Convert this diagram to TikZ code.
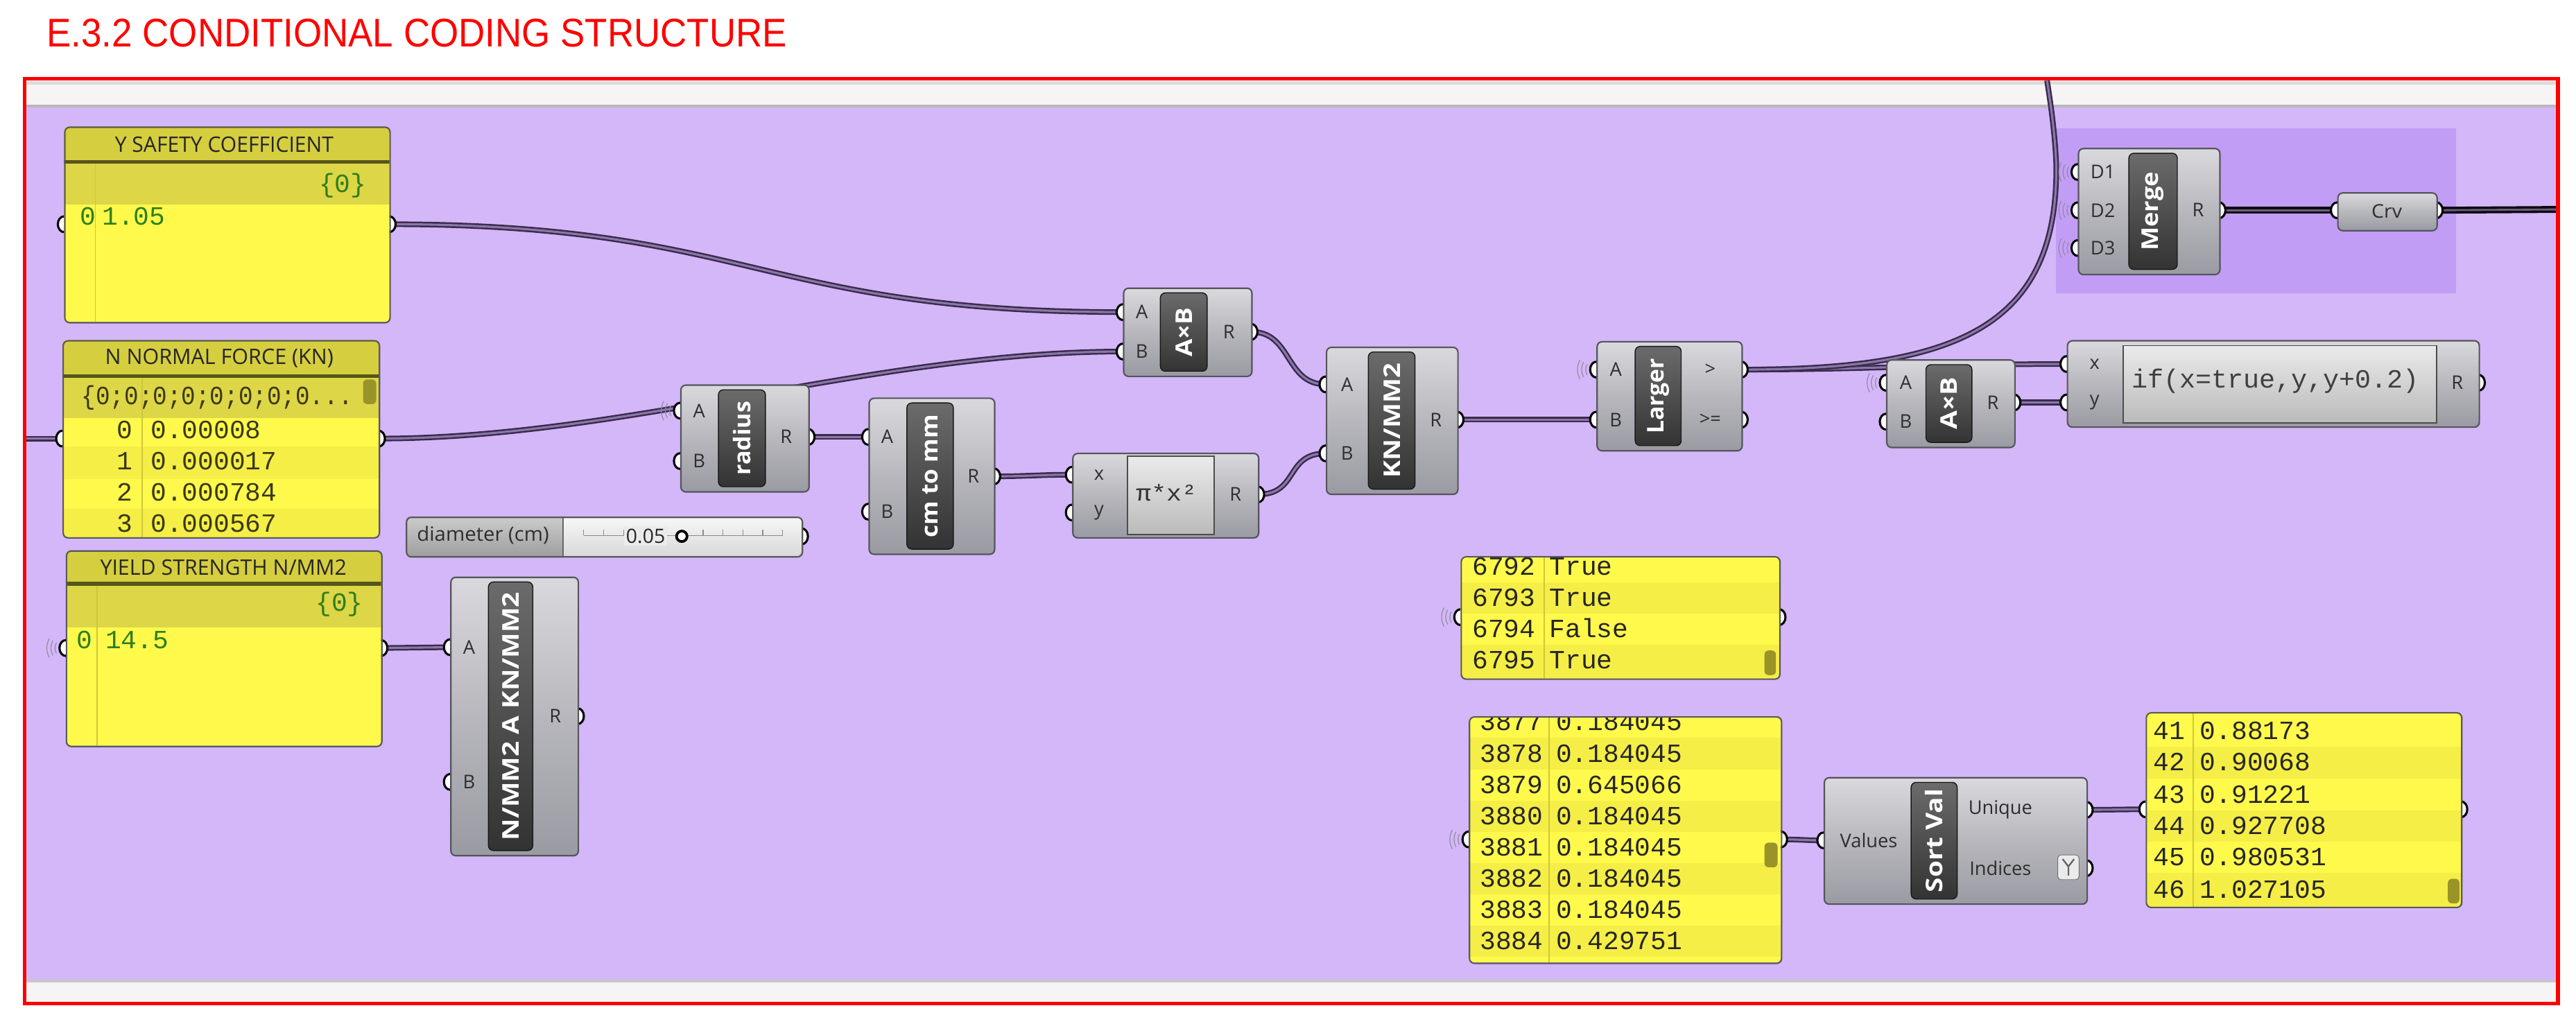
\documentclass[tikz,border=0pt]{standalone}
\usepackage{fontspec}
\usepackage{graphicx}
\usetikzlibrary{calc}
\newfontfamily\ghsans{Open Sans}
\newfontfamily\ghmono{Liberation Mono}
\newfontfamily\ghtitle{Liberation Sans}
\pgfdeclarelayer{bglayer}
\pgfdeclarelayer{wirelayer}
\pgfdeclarelayer{griplayer}
\pgfsetlayers{bglayer,wirelayer,griplayer,main}

\definecolor{ghcanvas}{HTML}{D3B7F9}
\definecolor{groupC}{HTML}{C29DF6}
\definecolor{stripW}{HTML}{F6F4F4}
\definecolor{wireC}{HTML}{3A2B4F}
\definecolor{wireIn}{HTML}{8B78A6}
\definecolor{compTop}{HTML}{D9D9DD}
\definecolor{compMid}{HTML}{B7B7BD}
\definecolor{compBot}{HTML}{9A9AA2}
\definecolor{compEdge}{HTML}{55555C}
\definecolor{panHead}{HTML}{D5CE3F}
\definecolor{panBand}{HTML}{DDD647}
\definecolor{panBody}{HTML}{FFF94C}
\definecolor{panRow}{HTML}{F5EE46}
\definecolor{panLine}{HTML}{57551C}
\definecolor{panSep}{HTML}{CFC73A}
\definecolor{panText}{HTML}{3A3914}
\definecolor{thumbC}{HTML}{9A9428}
\definecolor{greenT}{HTML}{2F7F1C}
\definecolor{redT}{HTML}{FF0000}

\tikzset{
  compbody/.style={draw=compEdge, line width=0.9pt, rounded corners=3pt, top color=compTop, bottom color=compBot, middle color=compMid, inner sep=0pt, shape=rectangle},
  stripbox/.style={draw=black!90, line width=0.6pt, rounded corners=3pt, top color=black!58, bottom color=black!80, inner sep=0pt, shape=rectangle},
  striptext/.style={text=white, font=\ghsans\bfseries\fontsize{14}{14}\selectfont, inner sep=0pt},
  portlab/.style={text=black!82, font=\ghsans\fontsize{11.5}{12}\selectfont, inner sep=0pt},
  headtxt/.style={text=black!85, font=\ghsans\fontsize{13}{13}\selectfont, inner sep=0pt},
  rowtxt/.style={font=\ghmono\fontsize{16}{16}\selectfont, inner sep=0pt},
  exprbox/.style={draw=black!70, line width=0.8pt, top color=black!8, bottom color=black!27, inner sep=0pt, shape=rectangle},
  panframe/.style={draw=black!65, line width=0.9pt, rounded corners=3pt, inner sep=0pt, shape=rectangle},
  wire/.style={draw=wireC, line width=1.05pt, double=wireIn, double distance=1.3pt},
  darkwire/.style={draw=black!80!wireC, line width=1.5pt, double=wireC!75!white, double distance=1.2pt},
  gripst/.style={fill=white, draw=black, line width=1.3pt},
  wless/.style={draw=wireC!55, line width=0.5pt},
}

\newcommand{\ghbody}[5]{\node[compbody, anchor=north west, minimum width={#4pt-#2pt}, minimum height={#5pt-#3pt}] (#1) at (#2,#3) {};}
\newcommand{\ghstrip}[7]{\node[stripbox, anchor=north west, minimum width={#4pt-#2pt}, minimum height={#5pt-#3pt-6pt}] (#1) at (#2,#3+3) {};
  \node[striptext, rotate=90] (#1-t) at (#1.center) {\resizebox{#7pt}{\height}{#6}};}
\newcommand{\ghgrip}[3]{\coordinate (#1) at (#2,#3);
  \begin{pgfonlayer}{griplayer}\draw[gripst] (#2,#3) ellipse [x radius=3.8, y radius=4.8];\end{pgfonlayer}}
\newcommand{\ghport}[5]{\ghgrip{#1}{#2}{#3}\node[portlab] (#1-l) at (#4,#3) {#5};}
\newcommand{\ghwl}[1]{\begin{pgfonlayer}{griplayer}\foreach \rr in {6.5,9,11.5}{\draw[wless] ([shift={(150:\rr)}]#1) arc[start angle=150,end angle=210,radius=\rr];}\end{pgfonlayer}}
\newcommand{\prow}[5]{\node[rowtxt, anchor=base west, text=#5] (#1) at (#2,#3) {#4};}

\begin{document}
\begin{tikzpicture}[x=1pt,y=-1pt]
\useasboundingbox (0,0) rectangle (1568,623.4);

% ---------------- background ----------------
\begin{pgfonlayer}{bglayer}
  \fill[white] (0,0) rectangle (1568,623.4);
  \fill[ghcanvas] (15,48) rectangle (1557,611);
  \fill[stripW] (15,48) rectangle (1557,65);
  \draw[black!14, line width=2pt] (15,50.5) -- (1557,50.5);
  \draw[black!28, line width=1.4pt] (15,64.6) -- (1557,64.6);
  \fill[stripW] (15,597) rectangle (1557,611);
  \draw[black!22, line width=1.4pt] (15,597.2) -- (1557,597.2);
  \fill[groupC] (1251.6,78) rectangle (1495,178.6);
\end{pgfonlayer}

% ---------------- title ----------------
\node[anchor=south west, inner sep=0pt, text=redT] (title) at (28.3,29)
  {\resizebox{450.5pt}{17pt}{\ghtitle E.3.2 CONDITIONAL CODING STRUCTURE}};

% ---------------- Y SAFETY COEFFICIENT panel ----------------
\begin{scope}
  \clip[rounded corners=3pt] (39,77) rectangle (237,196);
  \fill[panBody] (39,77) rectangle (237,196);
  \fill[panHead] (39,77) rectangle (237,98.5);
  \fill[panBand] (39,98.5) rectangle (237,124.5);
  \draw[panLine, line width=2.2pt] (39,98.5) -- (237,98.5);
  \draw[panSep, line width=0.7pt] (58,99.6) -- (58,196);
\end{scope}
\node[panframe, anchor=north west, minimum width=198pt, minimum height=119pt] (ysafe) at (39,77) {};
\node[headtxt] (ysafe-h) at (136.5,88) {\resizebox{133pt}{\height}{Y SAFETY COEFFICIENT}};
\prow{ysafe-br}{194}{117}{\{0\}}{greenT}
\prow{ysafe-i0}{48.6}{137}{0}{greenT}
\prow{ysafe-v0}{62}{137}{1.05}{greenT}
\ghgrip{ysafe-in}{39}{136.5}
\ghgrip{ysafe-out}{237}{136.5}

% ---------------- N NORMAL FORCE panel ----------------
\begin{scope}
  \clip[rounded corners=3pt] (38,207) rectangle (230.5,327);
  \fill[panBody] (38,207) rectangle (230.5,327);
  \fill[panHead] (38,207) rectangle (230.5,229);
  \fill[panBand] (38,229) rectangle (230.5,254.5);
  \fill[panRow] (38,272) rectangle (230.5,291.5);
  \fill[panRow] (38,310) rectangle (230.5,327);
  \draw[panLine, line width=2.2pt] (38,229) -- (230.5,229);
  \draw[panSep, line width=0.7pt] (86.5,230) -- (86.5,327);
  \fill[thumbC, rounded corners=2.5pt] (221,231) rectangle (229,246);
\end{scope}
\node[panframe, anchor=north west, minimum width=192.5pt, minimum height=120pt] (nforce) at (38,207) {};
\node[headtxt] (nforce-h) at (133.5,218) {\resizebox{139pt}{\height}{N NORMAL FORCE (KN)}};
\node[rowtxt, anchor=west, text=panText] (nforce-br) at (49.5,242) {\resizebox{165pt}{\height}{\{0;0;0;0;0;0;0;0...}};
\node[rowtxt, anchor=base east, text=panText] (nforce-i0) at (81,267) {0};
\node[rowtxt, anchor=base east, text=panText] (nforce-i1) at (81,286) {1};
\node[rowtxt, anchor=base east, text=panText] (nforce-i2) at (81,305) {2};
\node[rowtxt, anchor=base east, text=panText] (nforce-i3) at (81,324) {3};
\prow{nforce-v0}{91.6}{267}{0.00008}{panText}
\prow{nforce-v1}{91.6}{286}{0.000017}{panText}
\prow{nforce-v2}{91.6}{305}{0.000784}{panText}
\prow{nforce-v3}{91.6}{324}{0.000567}{panText}
\ghgrip{nforce-in}{38}{267}
\ghgrip{nforce-out}{230.5}{267}
\coordinate (edgeL) at (16,267);

% ---------------- YIELD STRENGTH panel ----------------
\begin{scope}
  \clip[rounded corners=3pt] (40,335) rectangle (232,454);
  \fill[panBody] (40,335) rectangle (232,454);
  \fill[panHead] (40,335) rectangle (232,355.4);
  \fill[panBand] (40,355.4) rectangle (232,382);
  \draw[panLine, line width=2.2pt] (40,355.4) -- (232,355.4);
  \draw[panSep, line width=0.7pt] (59,356.5) -- (59,454);
\end{scope}
\node[panframe, anchor=north west, minimum width=192pt, minimum height=119pt] (yield) at (40,335) {};
\node[headtxt] (yield-h) at (136,345.5) {\resizebox{150pt}{\height}{YIELD STRENGTH N/MM2}};
\prow{yield-br}{192}{372}{\{0\}}{greenT}
\prow{yield-i0}{46.4}{395}{0}{greenT}
\prow{yield-v0}{64}{395}{14.5}{greenT}
\ghgrip{yield-in}{40}{394.5}
\ghgrip{yield-out}{232}{394.5}
\ghwl{yield-in}

% ---------------- N/MM2 A KN/MM2 ----------------
\ghbody{nmm}{274}{351}{351.6}{520.5}
\ghstrip{nmm-s}{297}{351}{324}{520.5}{N/MM2 A KN/MM2}{151}
\ghport{nmm-A}{274}{394}{285.5}{A}
\ghport{nmm-B}{274}{476}{285.5}{B}
\ghport{nmm-R}{351.6}{436}{338}{R}

% ---------------- diameter slider ----------------
\begin{scope}
  \clip[rounded corners=3pt] (247,314.5) rectangle (488,338.6);
  \fill[top color=black!20, bottom color=black!38] (247,314.5) rectangle (342.7,338.6);
  \fill[top color=black!3, bottom color=black!15] (342.7,314.5) rectangle (488,338.6);
\end{scope}
\draw[black!60, line width=0.8pt] (342.7,314.5) -- (342.7,338.6);
\node[panframe, anchor=north west, minimum width=241pt, minimum height=24.1pt] (slider) at (247,314.5) {};
\node[portlab, font=\ghsans\fontsize{12}{12}\selectfont] (slider-name) at (294,326) {\resizebox{80.4pt}{\height}{diameter (cm)}};
\draw[black!45, line width=0.5pt] (355.3,326) -- (476.4,326);
\foreach \i in {0,...,10} {\draw[black!45, line width=0.5pt] (355.3+12.11*\i,326) -- ++(0,-3.5);}
\node[fill=black!8, inner sep=1.2pt, text=black!85, font=\ghsans\fontsize{12}{12}\selectfont] (slider-val) at (393,326.5) {0.05};
\draw[black, line width=1.6pt, fill=white] (415,326.5) circle [radius=3.2];
\ghgrip{slider-out}{488}{326.5}

% ---------------- radius ----------------
\ghbody{rad}{414}{234}{492}{299}
\ghstrip{rad-s}{437}{234}{465.6}{299}{radius}{45}
\ghport{rad-A}{414}{250}{425.5}{A}
\ghport{rad-B}{414}{280.7}{425.5}{B}
\ghport{rad-R}{492}{266}{478.5}{R}
\ghwl{rad-A}

% ---------------- cm to mm ----------------
\ghbody{cm}{528.6}{242}{605}{337}
\ghstrip{cm-s}{551.7}{242}{580}{337}{cm to mm}{75}
\ghport{cm-A}{528.6}{266}{540}{A}
\ghport{cm-B}{528.6}{311.5}{540}{B}
\ghport{cm-R}{605}{290}{592.5}{R}

% ---------------- pi*x^2 ----------------
\ghbody{pi}{652.6}{275.6}{765.7}{327}
\node[exprbox, anchor=north west, minimum width=52.7pt, minimum height=47.6pt] (pi-box) at (686,277.4) {};
\node[rowtxt, text=black!80, font=\ghmono\fontsize{14}{14}\selectfont] (pi-t) at (710,300) {\resizebox{37pt}{\height}{π*x²}};
\ghport{pi-x}{652.6}{289}{669}{x}
\ghport{pi-y}{652.6}{312}{669}{y}
\ghport{pi-R}{765.7}{301}{752}{R}

% ---------------- A x B (1) ----------------
\ghbody{axba}{683.5}{175}{761.6}{228.7}
\ghstrip{axba-s}{706}{175}{734.5}{228.7}{A×B}{30}
\ghport{axba-A}{683.5}{190}{695}{A}
\ghport{axba-B}{683.5}{214}{695}{B}
\ghport{axba-R}{761.6}{202}{748}{R}

% ---------------- KN/MM2 ----------------
\ghbody{kn}{807}{211}{887}{300.5}
\ghstrip{kn-s}{832.6}{211}{861}{300.5}{KN/MM2}{70}
\ghport{kn-A}{807}{234}{820}{A}
\ghport{kn-B}{807}{276}{820}{B}
\ghport{kn-R}{887}{255.5}{874}{R}

% ---------------- Larger ----------------
\ghbody{lg}{971.7}{207.6}{1060}{274}
\ghstrip{lg-s}{995}{207.6}{1023}{274}{Larger}{46}
\ghport{lg-A}{971.7}{225}{983.5}{A}
\ghport{lg-B}{971.7}{255.5}{983.5}{B}
\ghport{lg-gt}{1060}{225}{1041}{>}
\ghport{lg-ge}{1060}{255.5}{1041}{>=}
\ghwl{lg-A}

% ---------------- A x B (2) ----------------
\ghbody{axbb}{1148}{218.7}{1226}{272}
\ghstrip{axbb-s}{1172}{218.7}{1200}{272}{A×B}{32}
\ghport{axbb-A}{1148}{233}{1160}{A}
\ghport{axbb-B}{1148}{256.7}{1160}{B}
\ghport{axbb-R}{1226}{245}{1213}{R}
\ghwl{axbb-A}

% ---------------- if expression ----------------
\ghbody{ifx}{1258}{207}{1508.7}{259.6}
\node[exprbox, anchor=north west, minimum width=190.8pt, minimum height=47pt] (ifx-box) at (1292,210) {};
\node[rowtxt, text=black!75] (ifx-t) at (1385,232) {\resizebox{175pt}{\height}{if(x=true,y,y+0.2)}};
\ghport{ifx-x}{1258}{221.6}{1275}{x}
\ghport{ifx-y}{1258}{245}{1275}{y}
\ghport{ifx-R}{1508.7}{233}{1495.7}{R}

% ---------------- Merge ----------------
\ghbody{mg}{1264.7}{90}{1350.8}{166.7}
\ghstrip{mg-s}{1295.5}{90}{1325}{166.7}{Merge}{48}
\ghport{mg-D1}{1264.7}{104.7}{1280}{D1}
\ghport{mg-D2}{1264.7}{128}{1280}{D2}
\ghport{mg-D3}{1264.7}{151}{1280}{D3}
\ghport{mg-R}{1350.8}{128}{1338}{R}
\ghwl{mg-D1}\ghwl{mg-D2}\ghwl{mg-D3}

% ---------------- Crv ----------------
\ghbody{crv}{1422.6}{117}{1483}{140}
\node[portlab] (crv-t) at (1452.8,128.5) {\resizebox{18.6pt}{\height}{Crv}};
\ghgrip{crv-in}{1422.6}{128}
\ghgrip{crv-out}{1483}{128}
\coordinate (edgeR) at (1556,127.5);

% ---------------- Boolean panel ----------------
\begin{scope}
  \clip[rounded corners=3pt] (889,338.5) rectangle (1083,413);
  \fill[panBody] (889,338.5) rectangle (1083,413);
  \fill[panRow] (889,354.5) rectangle (1083,373.5);
  \fill[panRow] (889,392.5) rectangle (1083,413);
  \draw[panSep, line width=0.7pt] (940,338.5) -- (940,413);
  \fill[thumbC, rounded corners=2.5pt] (1074,396) rectangle (1081,411);
  \prow{bool-i0}{896}{350}{6792}{black!85}
  \prow{bool-v0}{943}{350}{True}{black!85}
  \prow{bool-i1}{896}{369}{6793}{black!85}
  \prow{bool-v1}{943}{369}{True}{black!85}
  \prow{bool-i2}{896}{388}{6794}{black!85}
  \prow{bool-v2}{943}{388}{False}{black!85}
  \prow{bool-i3}{896}{407}{6795}{black!85}
  \prow{bool-v3}{943}{407}{True}{black!85}
\end{scope}
\node[panframe, anchor=north west, minimum width=194pt, minimum height=74.5pt] (bool) at (889,338.5) {};
\ghgrip{bool-in}{889}{375.7}
\ghgrip{bool-out}{1083}{375.7}
\ghwl{bool-in}

% ---------------- Values panel ----------------
\begin{scope}
  \clip[rounded corners=3pt] (894,436) rectangle (1084,586);
  \fill[panBody] (894,436) rectangle (1084,586);
  \fill[panRow] (894,449) rectangle (1084,468.5);
  \fill[panRow] (894,487.5) rectangle (1084,506.5);
  \fill[panRow] (894,525.5) rectangle (1084,544.5);
  \fill[panRow] (894,563.5) rectangle (1084,582.5);
  \draw[panSep, line width=0.7pt] (943,436) -- (943,586);
  \fill[thumbC, rounded corners=2.5pt] (1074,513) rectangle (1082,528);
  \prow{vals-i0}{900.6}{444.6}{3877}{black!85}
  \prow{vals-v0}{947}{444.6}{0.184045}{black!85}
  \prow{vals-i1}{900.6}{464}{3878}{black!85}
  \prow{vals-v1}{947}{464}{0.184045}{black!85}
  \prow{vals-i2}{900.6}{483}{3879}{black!85}
  \prow{vals-v2}{947}{483}{0.645066}{black!85}
  \prow{vals-i3}{900.6}{502}{3880}{black!85}
  \prow{vals-v3}{947}{502}{0.184045}{black!85}
  \prow{vals-i4}{900.6}{521}{3881}{black!85}
  \prow{vals-v4}{947}{521}{0.184045}{black!85}
  \prow{vals-i5}{900.6}{540}{3882}{black!85}
  \prow{vals-v5}{947}{540}{0.184045}{black!85}
  \prow{vals-i6}{900.6}{559}{3883}{black!85}
  \prow{vals-v6}{947}{559}{0.184045}{black!85}
  \prow{vals-i7}{900.6}{578}{3884}{black!85}
  \prow{vals-v7}{947}{578}{0.429751}{black!85}
\end{scope}
\node[panframe, anchor=north west, minimum width=190pt, minimum height=150pt] (vals) at (894,436) {};
\ghgrip{vals-in}{894}{511}
\ghgrip{vals-out}{1084}{511}
\ghwl{vals-in}

% ---------------- Sort Values ----------------
\ghbody{sv}{1110}{473}{1270}{550}
\ghstrip{sv-s}{1163}{473}{1191}{550}{Sort Val}{63}
\ghport{sv-in}{1110}{511.6}{1137.5}{Values}
\ghport{sv-U}{1270}{493}{1217.6}{Unique}
\ghport{sv-I}{1270}{528.5}{1217.6}{Indices}
\node[draw=black!55, fill=black!8, rounded corners=2pt, minimum width=13pt, minimum height=15pt, inner sep=0pt] (sv-icon) at (1259,528) {};
\draw[black!60, line width=1pt] (1255.5,523) -- (1259,527.5) -- (1262.5,523) (1259,527.5) -- (1259,533);

% ---------------- Unique panel ----------------
\begin{scope}
  \clip[rounded corners=3pt] (1306,433.5) rectangle (1498,552);
  \fill[panBody] (1306,433.5) rectangle (1498,552);
  \fill[panRow] (1306,454.5) rectangle (1498,474);
  \fill[panRow] (1306,493.5) rectangle (1498,512.5);
  \fill[panRow] (1306,531.5) rectangle (1498,552);
  \draw[panSep, line width=0.7pt] (1335,433.5) -- (1335,552);
  \fill[thumbC, rounded corners=2.5pt] (1490,535) rectangle (1497,550);
  \prow{un-i0}{1310.6}{450}{41}{black!85}
  \prow{un-v0}{1339}{450}{0.88173}{black!85}
  \prow{un-i1}{1310.6}{469}{42}{black!85}
  \prow{un-v1}{1339}{469}{0.90068}{black!85}
  \prow{un-i2}{1310.6}{489}{43}{black!85}
  \prow{un-v2}{1339}{489}{0.91221}{black!85}
  \prow{un-i3}{1310.6}{508}{44}{black!85}
  \prow{un-v3}{1339}{508}{0.927708}{black!85}
  \prow{un-i4}{1310.6}{527}{45}{black!85}
  \prow{un-v4}{1339}{527}{0.980531}{black!85}
  \prow{un-i5}{1310.6}{546.6}{46}{black!85}
  \prow{un-v5}{1339}{546.6}{1.027105}{black!85}
\end{scope}
\node[panframe, anchor=north west, minimum width=192pt, minimum height=118.5pt] (uniq) at (1306,433.5) {};
\ghgrip{uniq-in}{1306}{492.7}
\ghgrip{uniq-out}{1498}{492.7}

% ---------------- wires ----------------
\coordinate (topbend) at (1251.6,100);
\coordinate (topexit) at (1246,49);
\begin{pgfonlayer}{wirelayer}
  \draw[wire] (edgeL) -- (nforce-in);
  \draw[wire] (ysafe-out) .. controls +(220,0) and +(-220,0) .. (axba-A);
  \draw[wire] (nforce-out) .. controls +(150,0) and +(-150,0) .. (axba-B);
  \draw[wire] (rad-R) -- (cm-A);
  \draw[wire] (cm-R) .. controls +(20,0) and +(-20,0) .. (pi-x);
  \draw[wire] (axba-R) .. controls +(25,0) and +(-25,0) .. (kn-A);
  \draw[wire] (pi-R) .. controls +(25,0) and +(-25,0) .. (kn-B);
  \draw[wire] (kn-R) -- (lg-B);
  \draw[wire] (lg-gt) .. controls +(80,0) and +(-80,0) .. (ifx-x);
  \draw[wire] (lg-gt) .. controls (1190,225) and (1253,200) .. (topbend) .. controls (1250.8,80) and (1248,62) .. (topexit);
  \draw[wire] (axbb-R) -- (ifx-y);
  \draw[darkwire] (mg-R) -- (crv-in);
  \draw[darkwire] (crv-out) -- (edgeR);
  \draw[wire] (yield-out) -- (nmm-A);
  \draw[wire] (vals-out) .. controls +(12,0) and +(-12,0) .. (sv-in);
  \draw[wire] (sv-U) .. controls +(15,0) and +(-15,0) .. (uniq-in);
\end{pgfonlayer}

% ---------------- frame ----------------
\draw[redT, line width=2.2pt] (15,48) rectangle (1557,611);
\end{tikzpicture}
\end{document}
